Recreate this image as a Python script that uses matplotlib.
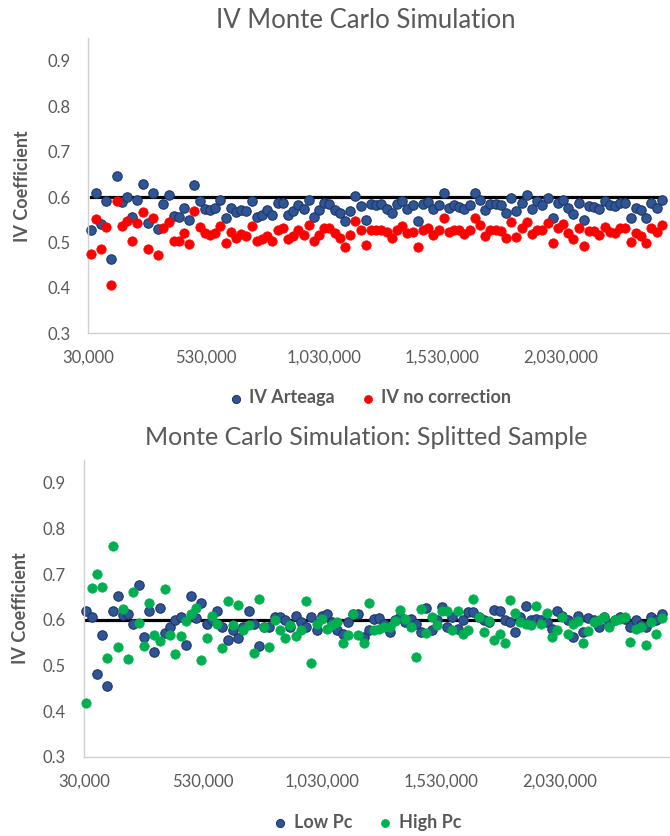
import numpy as np
import matplotlib
matplotlib.use('Agg')
import matplotlib.pyplot as plt
from matplotlib.ticker import FuncFormatter

plt.rcParams['font.family'] = ['Lato', 'DejaVu Sans']

# sample sizes on the x axis
n_obs = np.arange(40000, 40000 + 22000 * 111, 22000)
x_ticks = [30000, 530000, 1030000, 1530000, 2030000]
y_ticks = [0.3, 0.4, 0.5, 0.6, 0.7, 0.8, 0.9]
true_value = 0.6

iv_arteaga = [
    0.527, 0.609, 0.540, 0.591, 0.463, 0.647, 0.589, 0.600, 0.556, 0.594, 0.628,
    0.542, 0.609, 0.530, 0.585, 0.604, 0.559, 0.556, 0.577, 0.550, 0.627, 0.591,
    0.574, 0.571, 0.577, 0.593, 0.555, 0.577, 0.567, 0.572, 0.569, 0.591, 0.556,
    0.560, 0.571, 0.560, 0.588, 0.588, 0.560, 0.569, 0.582, 0.573, 0.593, 0.556,
    0.571, 0.588, 0.585, 0.572, 0.565, 0.547, 0.569, 0.602, 0.580, 0.550, 0.584,
    0.582, 0.584, 0.573, 0.566, 0.584, 0.591, 0.574, 0.582, 0.547, 0.584, 0.589,
    0.574, 0.583, 0.609, 0.577, 0.582, 0.578, 0.573, 0.582,
    0.609, 0.593, 0.571, 0.584, 0.585, 0.582, 0.564, 0.599, 0.569, 0.587, 0.604,
    0.573, 0.591, 0.583, 0.599, 0.555, 0.587, 0.594, 0.576, 0.562, 0.588, 0.549,
    0.580, 0.578, 0.573, 0.591, 0.582, 0.580, 0.588, 0.588, 0.555, 0.577, 0.572,
    0.555, 0.587, 0.577, 0.593,
]
iv_no_corr = [
    0.474, 0.551, 0.485, 0.534, 0.407, 0.591, 0.536, 0.547, 0.503, 0.542, 0.567,
    0.485, 0.555, 0.472, 0.531, 0.545, 0.503, 0.503, 0.521, 0.496, 0.569, 0.534,
    0.520, 0.516, 0.520, 0.536, 0.498, 0.523, 0.509, 0.518, 0.514, 0.536, 0.504,
    0.507, 0.514, 0.504, 0.528, 0.533, 0.507, 0.514, 0.527, 0.516, 0.538, 0.504,
    0.516, 0.533, 0.533, 0.520, 0.511, 0.491, 0.516, 0.547, 0.527, 0.494, 0.528,
    0.528, 0.528, 0.523, 0.509, 0.528, 0.536, 0.520, 0.523, 0.491, 0.527, 0.533,
    0.516, 0.527, 0.554, 0.523, 0.527, 0.528, 0.518, 0.528,
    0.553, 0.538, 0.514, 0.528, 0.528, 0.526, 0.509, 0.545, 0.512, 0.531, 0.545,
    0.518, 0.528, 0.528, 0.543, 0.499, 0.533, 0.540, 0.520, 0.507, 0.531, 0.493,
    0.525, 0.525, 0.516, 0.534, 0.523, 0.520, 0.533, 0.533, 0.501, 0.521, 0.514,
    0.499, 0.533, 0.523, 0.538,
]
low_pc = [
    0.620, 0.607, 0.482, 0.566, 0.455, 0.620, 0.653, 0.610, 0.613, 0.591, 0.675,
    0.562, 0.620, 0.529, 0.625, 0.571, 0.583, 0.599, 0.606, 0.544, 0.652, 0.604,
    0.636, 0.591, 0.599, 0.620, 0.584, 0.556, 0.577, 0.561, 0.584, 0.620, 0.591,
    0.542, 0.584, 0.584, 0.606,
    0.606, 0.599, 0.585, 0.609, 0.595, 0.584, 0.606, 0.577, 0.609, 0.612, 0.595,
    0.577, 0.569, 0.595, 0.613, 0.613, 0.562, 0.577, 0.602, 0.604, 0.591, 0.573,
    0.599, 0.606, 0.595, 0.602, 0.591, 0.573, 0.626, 0.577, 0.599, 0.628, 0.584,
    0.606, 0.580, 0.599, 0.617, 0.617,
    0.606, 0.599, 0.595, 0.622, 0.620, 0.600, 0.595, 0.573, 0.606, 0.629, 0.599,
    0.602, 0.599, 0.595, 0.580, 0.620, 0.609, 0.600, 0.562, 0.609, 0.573, 0.604,
    0.599, 0.584, 0.606, 0.591, 0.599, 0.606, 0.602, 0.584, 0.599, 0.588, 0.584,
    0.606, 0.599, 0.613,
]
high_pc = [
    0.418, 0.670, 0.700, 0.671, 0.516, 0.762, 0.540, 0.624, 0.515, 0.660, 0.593,
    0.542, 0.636, 0.566, 0.553, 0.668, 0.566, 0.524, 0.564, 0.597, 0.612, 0.626,
    0.511, 0.561, 0.609, 0.590, 0.538, 0.642, 0.588, 0.633, 0.577, 0.588, 0.527,
    0.646, 0.584, 0.540, 0.600,
    0.578, 0.559, 0.588, 0.564, 0.577, 0.641, 0.506, 0.590, 0.602, 0.580, 0.588,
    0.595, 0.550, 0.567, 0.613, 0.567, 0.549, 0.636, 0.577, 0.580, 0.583, 0.583,
    0.597, 0.622, 0.602, 0.585, 0.519, 0.624, 0.571, 0.606, 0.588, 0.620, 0.620,
    0.577, 0.620, 0.569, 0.578, 0.646,
    0.607, 0.573, 0.597, 0.555, 0.569, 0.548, 0.644, 0.615, 0.595, 0.591, 0.588,
    0.631, 0.591, 0.615, 0.562, 0.577, 0.607, 0.569, 0.590, 0.597, 0.548, 0.575,
    0.595, 0.599, 0.606, 0.584, 0.600, 0.602, 0.606, 0.551, 0.580, 0.584, 0.544,
    0.595, 0.569, 0.604,
]

GREY = '#595959'
BLUE = '#2F5597'
BLUE_EDGE = '#1F3864'
RED = '#FF0000'
GREEN = '#00B050'


def style_axis(ax):
    ax.set_xlim(30000, 2495000)
    ax.set_ylim(0.3, 0.95)
    ax.set_xticks(x_ticks)
    ax.set_yticks(y_ticks)
    ax.xaxis.set_major_formatter(FuncFormatter(lambda v, p: f'{int(v):,}'))
    ax.yaxis.set_major_formatter(FuncFormatter(lambda v, p: f'{v:.1f}'))
    ax.tick_params(length=0, labelsize=12, colors=GREY)
    ax.tick_params(axis='y', pad=13)
    ax.tick_params(axis='x', pad=12)
    for s in ['top', 'right']:
        ax.spines[s].set_visible(False)
    for s in ['left', 'bottom']:
        ax.spines[s].set_color('#D0D0D0')
        ax.spines[s].set_linewidth(1.0)
    ax.set_ylabel('IV Coefficient', fontsize=13, fontweight='bold', color=GREY, labelpad=8)


def add_legend(ax, anchor):
    leg = ax.legend(loc='center', bbox_to_anchor=anchor, bbox_transform=fig.transFigure,
                    ncol=2, frameon=False, handlelength=0.8, handletextpad=0.35,
                    columnspacing=1.4, markerscale=0.85,
                    prop={'weight': 'bold', 'size': 13})
    for t in leg.get_texts():
        t.set_color(GREY)
    return leg


fig = plt.figure(figsize=(6.7, 8.36), dpi=100)

# --- top panel ---
ax1 = fig.add_axes([0.1318, 0.6013, 0.8682, 0.3529])
ax1.plot(n_obs, [true_value] * len(n_obs), color='black', linewidth=2.3, zorder=1)
ax1.scatter(n_obs, iv_arteaga, s=46, color=BLUE, edgecolors=BLUE_EDGE, linewidths=0.8,
            label='IV Arteaga', zorder=2, clip_on=False)
ax1.scatter(n_obs, iv_no_corr, s=46, color=RED, edgecolors=RED, linewidths=0.5,
            label='IV no correction', zorder=3, clip_on=False)
style_axis(ax1)
ax1.yaxis.set_label_coords(-0.098, 0.5)
fig.text(0.546, 0.975, 'IV Monte Carlo Simulation', ha='center', va='center',
         fontsize=18.5, color=GREY)
add_legend(ax1, (0.552, 0.524))

# --- bottom panel ---
ax2 = fig.add_axes([0.1254, 0.0949, 0.8746, 0.3549])
ax2.plot(n_obs, [true_value] * len(n_obs), color='black', linewidth=2.3, zorder=1)
ax2.scatter(n_obs, low_pc, s=46, color=BLUE, edgecolors=BLUE_EDGE, linewidths=0.8,
            label='Low Pc', zorder=2, clip_on=False)
ax2.scatter(n_obs, high_pc, s=46, color=GREEN, edgecolors=GREEN, linewidths=0.5,
            label='High Pc', zorder=3, clip_on=False)
style_axis(ax2)
ax2.yaxis.set_label_coords(-0.094, 0.5)
fig.text(0.546, 0.477, 'Monte Carlo Simulation: Splitted Sample', ha='center', va='center',
         fontsize=18, color=GREY)
add_legend(ax2, (0.548, 0.0167))

fig.savefig('out.png', dpi=100)
